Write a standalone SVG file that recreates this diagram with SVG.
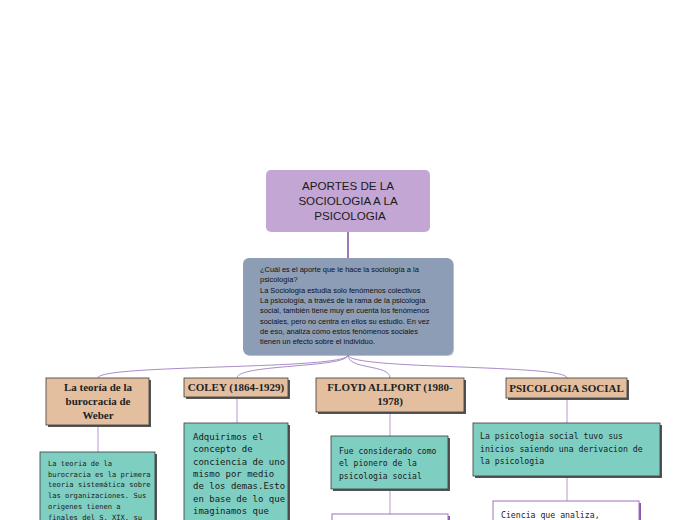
<svg xmlns="http://www.w3.org/2000/svg" width="696" height="520" viewBox="0 0 696 520">
<style>
.title{font-family:"Liberation Sans",Arial,sans-serif;font-size:11.6px;fill:#1a1a1a;text-anchor:middle}
.desc{font-family:"Liberation Sans",Arial,sans-serif;font-size:7.45px;fill:#111}
.head{font-family:"Liberation Serif","Times New Roman",serif;font-weight:bold;font-size:11px;fill:#222;text-anchor:middle}
.mono{font-family:"DejaVu Sans Mono","Liberation Mono",monospace;fill:#1a1a1a}
.tan{fill:#e3bfa0;stroke:#3a3a3a;stroke-width:0.8}
.teal{fill:#7fcec2;stroke:#3a3a3a;stroke-width:0.8}
.shadow{fill:#555}
.white{fill:#fff;stroke:#a070c0;stroke-width:1}
.wshadow{fill:#8a5aa8}
.conn{fill:none;stroke:#a98cc8;stroke-width:1}
.vconn{fill:none;stroke:#c4a8dc;stroke-width:1.2}
</style>
<rect width="696" height="520" fill="#fff"/>
<g id="connectors">
<path d="M348,232 L348,258" stroke="#7b4ea0" stroke-width="1.5" fill="none"/>
<path class="conn" d="M348,355 C348,370 98,364 98,378"/>
<path class="conn" d="M348,355 C348,368 237,364 237,378"/>
<path class="conn" d="M348,355 C348,370 390,364 390,378"/>
<path class="conn" d="M348,355 C348,370 567,364 567,378"/>
<path class="vconn" d="M98,425 L98,452"/>
<path class="vconn" d="M237,397 L237,423"/>
<path class="vconn" d="M390,412 L390,436"/>
<path class="vconn" d="M390,489 L390,514"/>
<path class="vconn" d="M567,398 L567,423"/>
<path class="vconn" d="M567,476 L567,501"/>
</g>
<g id="title">
<rect x="266" y="170" width="164" height="62" rx="5" fill="#c3a6d3"/>
<text class="title" x="348" y="190">APORTES DE LA</text>
<text class="title" x="348" y="205">SOCIOLOGIA A LA</text>
<text class="title" x="350" y="220">PSICOLOGIA</text>
</g>
<g id="question">
<rect x="244" y="259" width="210" height="97" rx="6" fill="#6f7f96" opacity="0.5"/>
<rect x="243" y="258" width="210" height="97" rx="6" fill="#8c9db5"/>
<text class="desc" x="260" y="272">¿Cuál es el aporte que le hace la sociología a la</text>
<text class="desc" x="260" y="282.3">psicología?</text>
<text class="desc" x="260" y="292.6">La Sociología estudia solo fenómenos colectivos</text>
<text class="desc" x="260" y="302.9">La psicología, a través de la rama de la psicología</text>
<text class="desc" x="260" y="313.2">social, también tiene muy en cuenta los fenómenos</text>
<text class="desc" x="260" y="323.5">sociales, pero no centra en ellos su estudio. En vez</text>
<text class="desc" x="260" y="333.8">de eso, analiza cómo estos fenómenos sociales</text>
<text class="desc" x="260" y="344.1">tienen un efecto sobre el individuo.</text>
</g>
<g id="weber">
<rect class="shadow" x="48" y="380" width="103" height="47"/>
<rect class="tan" x="46" y="378" width="103" height="47"/>
<text class="head" x="98" y="391">La teoría de la</text>
<text class="head" x="98" y="405">burocracia de</text>
<text class="head" x="98" y="419">Weber</text>
</g>
<g id="coley">
<rect class="shadow" x="186" y="380" width="104" height="19"/>
<rect class="tan" x="184" y="378" width="104" height="19"/>
<text class="head" x="236" y="391">COLEY (1864-1929)</text>
</g>
<g id="floyd">
<rect class="shadow" x="318" y="380" width="148" height="34"/>
<rect class="tan" x="316" y="378" width="148" height="34"/>
<text class="head" x="390" y="391">FLOYD ALLPORT (1980-</text>
<text class="head" x="390" y="405">1978)</text>
</g>
<g id="psicologia-social">
<rect class="shadow" x="508" y="380" width="121" height="20"/>
<rect class="tan" x="506" y="378" width="121" height="20"/>
<text class="head" x="566.5" y="392">PSICOLOGIA SOCIAL</text>
</g>
<g id="weber-text">
<rect class="shadow" x="42" y="454" width="115" height="80"/>
<rect class="teal" x="40" y="452" width="115" height="80"/>
<text class="mono" font-size="7.1" x="48" y="466">La teoria de la</text>
<text class="mono" font-size="7.1" x="48" y="476.7">burocracia es la primera</text>
<text class="mono" font-size="7.1" x="48" y="487.4">teoria sistemática sobre</text>
<text class="mono" font-size="7.1" x="48" y="498.1">las organizaciones. Sus</text>
<text class="mono" font-size="7.1" x="48" y="508.8">origenes tienen a</text>
<text class="mono" font-size="7.1" x="48" y="519.5">finales del S. XIX, su</text>
</g>
<g id="coley-text">
<rect class="shadow" x="186" y="425" width="104" height="110"/>
<rect class="teal" x="184" y="423" width="104" height="110"/>
<text class="mono" font-size="9" x="193" y="440">Adquirimos el</text>
<text class="mono" font-size="9" x="193" y="452.3">concepto de</text>
<text class="mono" font-size="9" x="193" y="464.6">conciencia de uno</text>
<text class="mono" font-size="9" x="193" y="476.9">mismo por medio</text>
<text class="mono" font-size="9" x="193" y="489.2">de los demas.Esto</text>
<text class="mono" font-size="9" x="193" y="501.5">en base de lo que</text>
<text class="mono" font-size="9" x="193" y="513.8">imaginamos que</text>
</g>
<g id="floyd-text">
<rect class="shadow" x="333" y="438" width="117" height="53"/>
<rect class="teal" x="331" y="436" width="117" height="53"/>
<text class="mono" font-size="8.1" x="339" y="454">Fue considerado como</text>
<text class="mono" font-size="8.1" x="339" y="466.3">el pionero de la</text>
<text class="mono" font-size="8.1" x="339" y="478.6">psicologia social</text>
</g>
<g id="floyd-next">
<rect class="wshadow" x="334" y="516" width="116" height="10"/>
<rect class="white" x="332" y="514" width="116" height="12"/>
</g>
<g id="social-text">
<rect class="shadow" x="475" y="425" width="187" height="53"/>
<rect class="teal" x="473" y="423" width="187" height="53"/>
<text class="mono" font-size="8.2" x="480" y="439">La psicologia social tuvo sus</text>
<text class="mono" font-size="8.2" x="480" y="451.5">inicios saiendo una derivacion de</text>
<text class="mono" font-size="8.2" x="480" y="464">la psicologia</text>
</g>
<g id="social-next">
<rect class="wshadow" x="495" y="503" width="146" height="25"/>
<rect class="white" x="493" y="501" width="146" height="25"/>
<text class="mono" font-size="8.2" x="501" y="518">Ciencia que analiza,</text>
</g>
</svg>
